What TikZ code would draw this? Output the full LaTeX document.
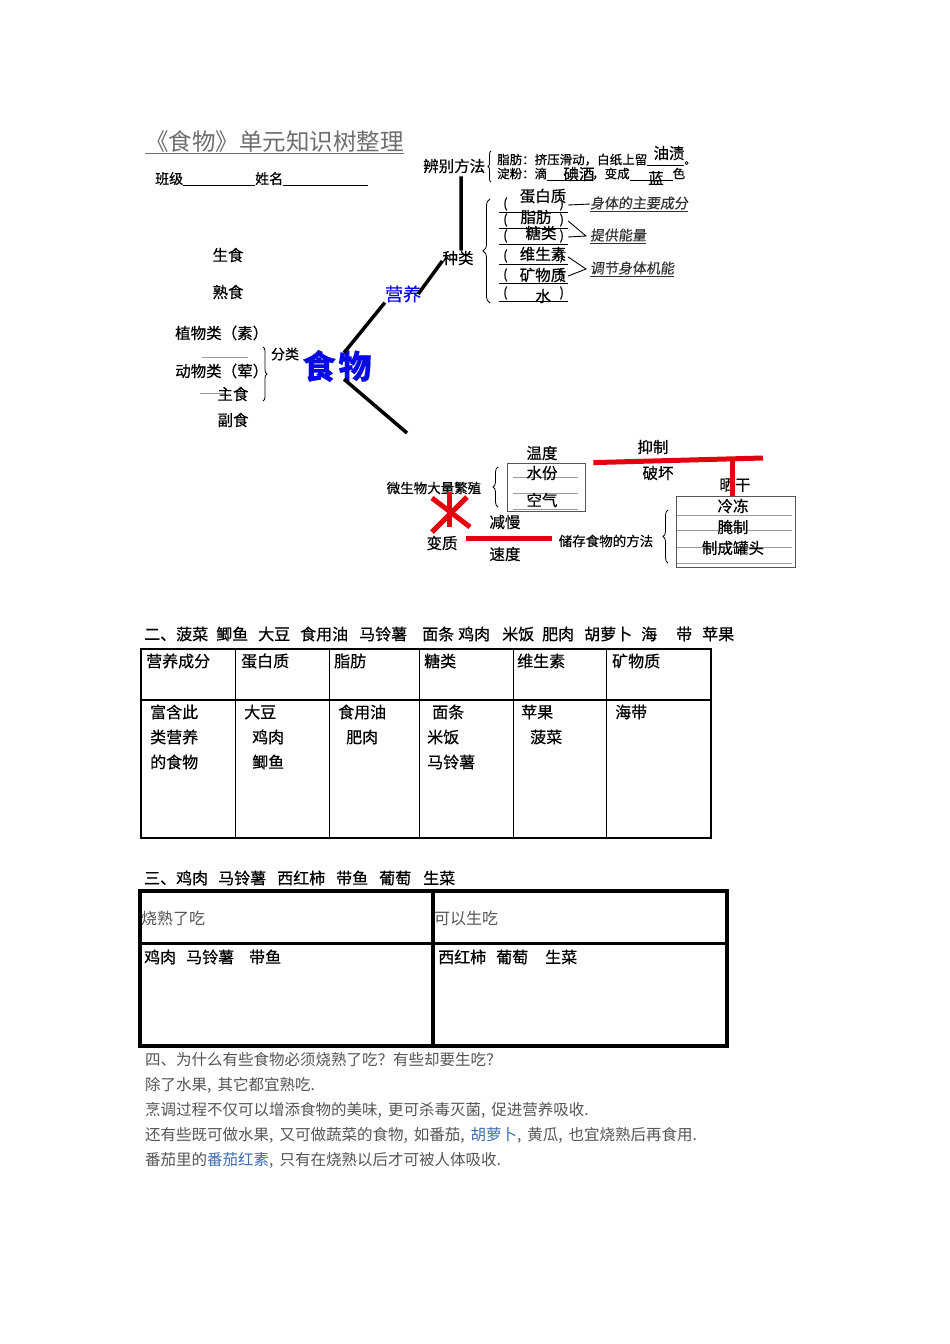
\documentclass[tikz,border=0pt]{standalone}
\usepackage{fontspec}
\setmainfont{Noto Sans CJK SC}[FakeBold=0.45]
\newfontfamily\xiti{Noto Sans CJK SC}
\newfontfamily\xieti[FakeSlant=0.12,FakeBold=0.3]{Noto Sans CJK SC}
\usetikzlibrary{decorations.pathreplacing}
\definecolor{Hong}{HTML}{E5000F}
\definecolor{Lan}{HTML}{0A0AE6}
\definecolor{LianJie}{HTML}{3D6DB3}
\definecolor{HuiZi}{HTML}{555555}
\definecolor{ShenHui}{HTML}{333333}
\definecolor{HuiXian}{HTML}{9A9A9A}
\definecolor{BiaoTi}{HTML}{6E6E6E}
\newcommand{\zihao}[1]{\fontsize{#1}{#1}\selectfont}

\begin{document}
\begin{tikzpicture}[
  x=1pt,y=-1pt,
  wz/.style={inner sep=0pt,font=\zihao{15.5}},
  wzl/.style={wz,anchor=west},
  xiao/.style={inner sep=0pt,anchor=west,font=\zihao{12.5}},
  biao/.style={inner sep=0pt,anchor=west,font=\zihao{16}},
  duan/.style={inner sep=0pt,anchor=west,font=\zihao{15.5}\xiti,text=HuiZi},
  cu/.style={line width=3.5pt},
  hongxian/.style={draw=Hong,line width=5pt},
  huixian/.style={draw=HuiXian,line width=0.8pt},
  kuohao/.style={decorate,decoration={brace,amplitude=#1},line width=0.8pt},
  kuohao/.default=5pt
]
  \fill[white] (0,0) rectangle (950,1344);
  \useasboundingbox (0,0) rectangle (950,1344);

  % 标题
  \node[wzl,font=\zihao{23.5}\xiti,text=BiaoTi] (biaoti) at (145,142) {《食物》单元知识树整理};
  \draw[BiaoTi,line width=0.8pt] (biaoti.south west) -- (biaoti.south east);
  \node[wzl,font=\zihao{14}] (banji) at (155,179) {班级\underline{\hspace{72pt}}姓名\underline{\hspace{85pt}}};

  % 辨别方法
  \node[wzl] (bianbie) at (423,166) {辨别方法};
  \draw[kuohao=3pt] (491,182) -- (491,151);
  \node[xiao] (zhifang) at (497,160) {脂肪：挤压滑动，白纸上留\underline{\hspace{37pt}}。};
  \node[xiao] (dianfen) at (497,174) {淀粉：滴\underline{\hspace{45pt}}，变成\underline{\hspace{43pt}}色};
  \node[wz] (youzi) at (669,153) {油渍};
  \node[wz] (dianjiu) at (579,174) {碘酒};
  \node[wz] (lanse) at (656,178) {蓝};

  % 种类
  \node[wz] (zhonglei) at (458,258) {种类};
  \draw[cu] ([xshift=7pt,yshift=-3pt]bianbie.south) -- ([xshift=3pt]zhonglei.north);
  \draw[kuohao=7pt] (490,303) -- (490,199);
  \foreach \y/\n in {205/1,221/2,237/3,257/4,276/5,294/6}
    \node[xiao,font=\zihao{13}] (r\n) at (499,\y) {\underline{\hspace{4pt}(\hspace{52pt})\hspace{4pt}}};
  \node[wz] (a1) at (543,196) {蛋白质};
  \node[wz] (a2) at (536,217) {脂肪};
  \node[wz] (a3) at (541,233) {糖类};
  \node[wz] (a4) at (543,254) {维生素};
  \node[wz] (a5) at (543,275) {矿物质};
  \node[wz] (a6) at (543,296) {水};
  \node[xiao,font=\zihao{14}\xieti,text=ShenHui] (zhuyao) at (590,204) {\underline{身体的主要成分}};
  \node[xiao,font=\zihao{14}\xieti,text=ShenHui] (tigong) at (590,236) {\underline{提供能量}};
  \node[xiao,font=\zihao{14}\xieti,text=ShenHui] (tiaojie) at (590,269) {\underline{调节身体机能}};
  \draw[line width=0.9pt] (r1.east) -- (zhuyao.west);
  \draw[line width=0.9pt] (r2.east) -- ([xshift=-4pt]tigong.west) -- (r3.east);
  \draw[line width=0.9pt] (r4.east) -- ([xshift=-4pt]tiaojie.west) -- (r5.east);

  % 食物
  \node[wz,font=\zihao{18},text=Lan] (yingyang) at (403,294) {营养};
  \draw[cu] ([xshift=-3pt]yingyang.east) -- ([yshift=-3pt]zhonglei.west);
  \node[wz,font=\zihao{33}\bfseries,text=Lan] (shiwu) at (337,366) {食\hspace{3pt}物};
  \draw[cu] ([xshift=7pt,yshift=-3pt]shiwu.north) -- (yingyang.south west);
  \coordinate (xiazhi) at (407,433);
  \draw[cu] ([xshift=7pt,yshift=3pt]shiwu.south) -- (xiazhi);

  % 左边
  \node[wz] (shengshi) at (228,255) {生食};
  \node[wz] (shushi) at (228,292) {熟食};
  \node[wzl] (zhiwu) at (175,333) {植物类（素）};
  \draw[huixian] (202,357) -- (248,357);
  \node[wzl] (dongwu) at (175,371) {动物类（荤）};
  \draw[huixian] (200,393) -- (226,393);
  \node[wz] (zhushi) at (233,394) {主食};
  \node[wz] (fushi) at (233,420) {副食};
  \draw[kuohao=4pt] (263,347) -- (263,401);
  \node[wz,font=\zihao{14}] (fenlei) at (285,354) {分类};

  % 变质
  \node[wz] (wendu) at (542,453) {温度};
  \node[draw=HuiZi,line width=0.8pt,minimum width=78pt,minimum height=48pt,inner sep=0pt] (wenbox) at (546,487) {};
  \foreach \y in {477,493,509}
    \draw[huixian] (513,\y) -- (578,\y);
  \node[wz] (shuifen) at (542,473) {水份};
  \node[wz] (kongqi) at (542,500) {空气};
  \draw[kuohao=5pt] (498,507) -- (498,467);
  \node[inner sep=0pt,font=\zihao{13.5}] (weisheng) at (434,488) {微生物大量繁殖};
  \draw[hongxian] (432,498) -- (470,527);
  \draw[hongxian] (467,497) -- (432,532);
  \draw[hongxian] (449,492) -- (449,527);
  \node[wz] (bianzhi) at (442,543) {变质};
  \node[wz] (jianman) at (505,522) {减慢};
  \node[wz] (sudu) at (505,554) {速度};
  \node[inner sep=0pt,font=\zihao{13.5}] (chucun) at (606,541) {储存食物的方法};
  \draw[hongxian] ([xshift=8pt,yshift=5pt]bianzhi.east) -- ([xshift=-7pt,yshift=3pt]chucun.west);

  % 储存方法
  \draw[kuohao=5pt] (668,563) -- (668,510);
  \node[draw=HuiZi,line width=0.8pt,minimum width=119pt,minimum height=71pt,inner sep=0pt] (cunbox) at (735.5,531.5) {};
  \foreach \y in {515,530,547,563}
    \draw[huixian] (677,\y) -- (792,\y);
  \node[wz] (shaigan) at (735,485) {晒干};
  \node[wz] (lengdong) at (733,506) {冷冻};
  \node[wz] (yanzhi) at (733,527) {腌制};
  \node[wz] (guantou) at (733,548) {制成罐头};
  \node[wz] (yizhi) at (653,447) {抑制};
  \node[wz] (pohuai) at (658,473) {破坏};
  \coordinate (hongwei) at (763,458);
  \draw[hongxian] ([xshift=8pt]wenbox.north east) -- (hongwei);
  \coordinate (hongjiao) at (732,461);
  \draw[hongxian] (hongjiao) -- (hongjiao |- cunbox.north);

  % 二
  \node[biao] (ti2) at (144,634) {二、菠菜\hspace{8pt}鲫鱼\hspace{10pt}大豆\hspace{10pt}食用油\hspace{11pt}马铃薯\hspace{15pt}面条\hspace{4pt}鸡肉\hspace{12pt}米饭\hspace{8pt}肥肉\hspace{10pt}胡萝卜\hspace{9pt}海\hspace{19pt}带\hspace{10pt}苹果};
  \draw[line width=2.5pt] (141,649) rectangle (711,838);
  \foreach \x in {235,329,419,513,606}
    \draw[line width=1pt] (\x,649) -- (\x,838);
  \draw[line width=1.5pt] (141,700) -- (711,700);
  \foreach \x/\t [count=\i] in {146/营养成分,241/蛋白质,334/脂肪,424/糖类,517/维生素,612/矿物质}
    \node[biao] (h\i) at (\x,661) {\t};
  \node[biao] (c1a) at (150,712) {富含此};
  \node[biao] (c1b) at (150,737) {类营养};
  \node[biao] (c1c) at (150,762) {的食物};
  \node[biao] (c2a) at (244,712) {大豆};
  \node[biao] (c2b) at (252,737) {鸡肉};
  \node[biao] (c2c) at (252,762) {鲫鱼};
  \node[biao] (c3a) at (338,712) {食用油};
  \node[biao] (c3b) at (346,737) {肥肉};
  \node[biao] (c4a) at (432,712) {面条};
  \node[biao] (c4b) at (427,737) {米饭};
  \node[biao] (c4c) at (427,762) {马铃薯};
  \node[biao] (c5a) at (521,712) {苹果};
  \node[biao] (c5b) at (530,737) {菠菜};
  \node[biao] (c6a) at (615,712) {海带};

  % 三
  \node[biao] (ti3) at (144,878) {三、鸡肉\hspace{10pt}马铃薯\hspace{11pt}西红柿\hspace{11pt}带鱼\hspace{11pt}葡萄\hspace{12pt}生菜};
  \draw[line width=3.5pt] (140,891) rectangle (727,1046);
  \draw[line width=3.5pt] (433,891) -- (433,1046);
  \draw[line width=3pt] (140,943) -- (727,943);
  \node[biao,font=\zihao{16}\xiti,text=HuiZi] (shaoshu) at (141,918) {烧熟了吃};
  \node[biao,font=\zihao{16}\xiti,text=HuiZi] (kesheng) at (434,918) {可以生吃};
  \node[biao] (shaoshu2) at (144,957) {鸡肉\hspace{10pt}马铃薯\hspace{15pt}带鱼};
  \node[biao] (kesheng2) at (438,957) {西红柿\hspace{10pt}葡萄\hspace{17pt}生菜};

  % 四
  \node[duan] (wen) at (145,1060) {四、为什么有些食物必须烧熟了吃？有些却要生吃？};
  \node[duan] (da1) at (145,1085) {除了水果,\kern6pt其它都宜熟吃.};
  \node[duan] (da2) at (145,1110) {烹调过程不仅可以增添食物的美味,\kern6pt更可杀毒灭菌,\kern6pt促进营养吸收.};
  \node[duan] (da3) at (145,1135) {还有些既可做水果,\kern6pt又可做蔬菜的食物,\kern6pt如番茄,\kern6pt\textcolor{LianJie}{胡萝卜},\kern6pt黄瓜,\kern6pt也宜烧熟后再食用.};
  \node[duan] (da4) at (145,1160) {番茄里的\textcolor{LianJie}{番茄红素},\kern6pt只有在烧熟以后才可被人体吸收.};
\end{tikzpicture}
\end{document}
